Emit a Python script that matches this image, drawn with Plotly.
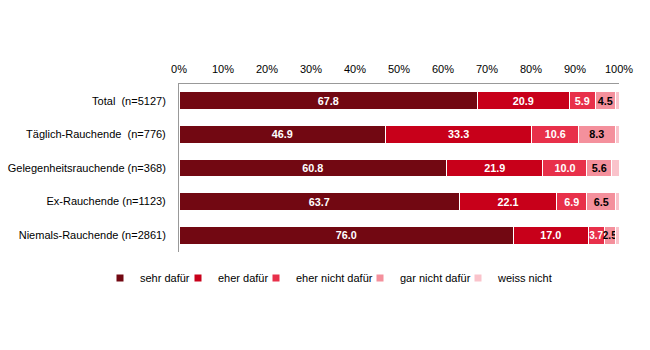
import plotly.graph_objects as go

categories = ["Total  (n=5127)", "Täglich-Rauchende  (n=776)", "Gelegenheitsrauchende (n=368)",
              "Ex-Rauchende (n=1123)", "Niemals-Rauchende (n=2861)"]
series_names = ["sehr dafür", "eher dafür", "eher nicht dafür", "gar nicht dafür", "weiss nicht"]
sehr_dafuer = [67.8, 46.9, 60.8, 63.7, 76.0]
eher_dafuer = [20.9, 33.3, 21.9, 22.1, 17.0]
eher_nicht_dafuer = [5.9, 10.6, 10.0, 6.9, 3.7]
gar_nicht_dafuer = [4.5, 8.3, 5.6, 6.5, 2.5]
weiss_nicht = [0.9, 0.9, 1.7, 0.8, 0.8]
tick_vals = [0, 10, 20, 30, 40, 50, 60, 70, 80, 90, 100]
tick_text = [f"{v}%" for v in tick_vals]

colors = ["#720812", "#C8001A", "#E8304A", "#F4909C", "#FAC3CB"]
text_colors = ["white", "white", "white", "black", "black"]
series = [sehr_dafuer, eher_dafuer, eher_nicht_dafuer, gar_nicht_dafuer, weiss_nicht]

# legend anchor positions (px from left of figure) for each entry
legend_px = [100, 178, 256, 360, 458]
L, R, T, B = 179, 31, 84, 98
plot_w = 650 - L - R
plot_h = 350 - T - B
legend_names = ["legend", "legend2", "legend3", "legend4", "legend5"]

fig = go.Figure()
for i, (name, vals) in enumerate(zip(series_names, series)):
    show_text = i < 4
    sizes = [11] * len(vals)
    if i in (2, 3):
        sizes[-1] = 10
    fig.add_trace(go.Bar(
        y=categories, x=vals, name=name, orientation="h",
        marker=dict(color=colors[i], line=dict(color="white", width=1)),
        text=[f"{v:.1f}" for v in vals] if show_text else None,
        texttemplate="<b>%{text}</b>" if show_text else None,
        textposition="inside" if show_text else "none",
        insidetextanchor="middle",
        textangle=0,
        textfont=dict(color=text_colors[i], size=sizes, family="Liberation Sans, Arial"),
        width=0.53,
        hoverinfo="skip",
        showlegend=False,
    ))
    # legend entry with a small square symbol
    fig.add_trace(go.Scatter(
        x=[None], y=[None], mode="markers", name=name,
        marker=dict(symbol="square", size=7, color=colors[i]),
        legend=legend_names[i], showlegend=True, hoverinfo="skip",
    ))

layout_legends = {}
for i, ln in enumerate(legend_names):
    layout_legends[ln] = dict(
        orientation="h", x=(legend_px[i] - L) / plot_w, xanchor="left",
        y=(252 - 278) / plot_h, yanchor="middle",
        font=dict(size=11, family="Liberation Sans, Arial", color="black"),
        itemwidth=30, bgcolor="rgba(0,0,0,0)",
    )

fig.update_layout(
    barmode="stack",
    width=650, height=350,
    margin=dict(l=L, r=R, t=T, b=B, autoexpand=False),
    paper_bgcolor="white", plot_bgcolor="white",
    font=dict(family="Liberation Sans, Arial", size=11, color="black"),
    uniformtext=dict(minsize=10, mode="show"),
    showlegend=True,
    **layout_legends,
)
fig.update_xaxes(side="top", range=[0, 100], tickvals=tick_vals, ticktext=tick_text,
                 showgrid=False, zeroline=False, showline=True, linecolor="#999999",
                 linewidth=1, ticks="", tickfont=dict(size=11), ticklabelstandoff=6)
fig.update_yaxes(autorange="reversed", showgrid=False, showline=True, linecolor="#999999",
                 linewidth=1, ticks="", tickfont=dict(size=11), ticklabelstandoff=10)

fig.write_html("out.html")
